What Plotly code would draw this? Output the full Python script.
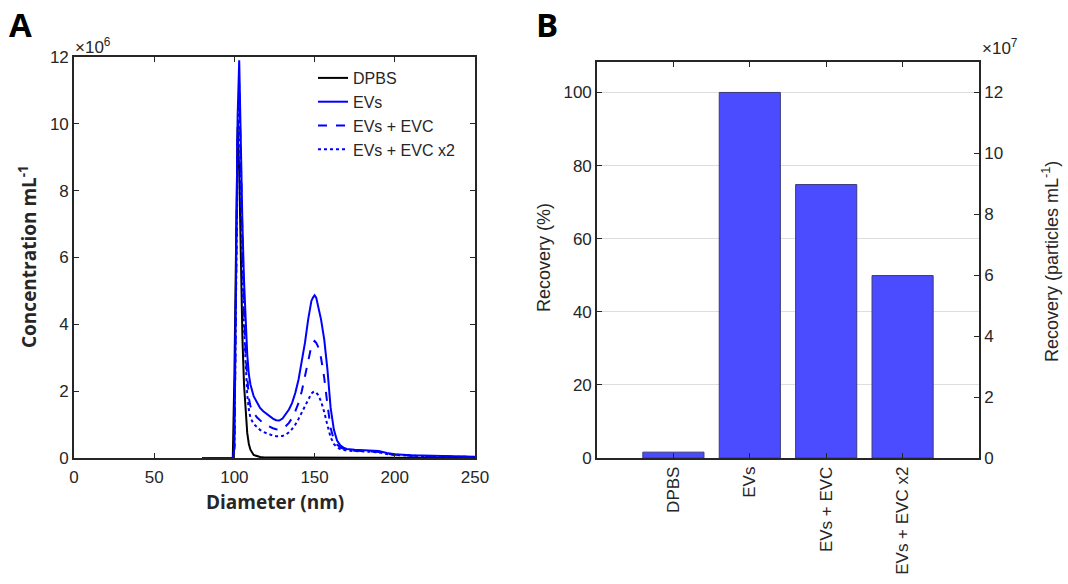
import plotly.graph_objects as go

# ---------------- Panel A data (concentration in units of 1e6 per mL) ----------------
diameter_nm = [80, 99, 100, 101, 102, 103, 104, 105, 106, 107, 108, 109, 110,
               112, 114, 116, 118, 120, 122, 124, 126, 128, 130,
               132, 134, 136, 138, 140, 142, 144, 146, 148,
               149, 150, 151, 152,
               154, 156, 158, 160, 162, 164, 166, 168, 170,
               175, 180, 185, 190, 195, 200,
               210, 220, 230, 240, 250]

conc_dpbs = [0, 0, 2.5, 7.0, 9.9, 8.6, 5.8, 3.6, 2.2, 1.3, 0.75, 0.42, 0.25,
             0.09, 0.05, 0.03, 0.025, 0.02, 0.02, 0.018, 0.016, 0.015, 0.015,
             0.014, 0.013, 0.012, 0.012, 0.011, 0.011, 0.01, 0.01, 0.01,
             0.01, 0.01, 0.01, 0.01,
             0.01, 0.009, 0.009, 0.009, 0.008, 0.008, 0.008, 0.008, 0.007,
             0.007, 0.006, 0.006, 0.005, 0.005, 0.005,
             0.004, 0.004, 0.003, 0.003, 0.003]

conc_evs = [0, 0, 0.3, 4.5, 10.2, 11.9, 9.2, 7.0, 5.3, 4.0, 3.1, 2.5, 2.2,
            1.85, 1.65, 1.5, 1.4, 1.32, 1.25, 1.18, 1.13, 1.12, 1.18,
            1.3, 1.45, 1.65, 1.95, 2.35, 2.85, 3.45, 4.15, 4.7,
            4.8, 4.87, 4.8, 4.6,
            4.15, 3.55, 2.65, 1.5, 0.85, 0.52, 0.38, 0.31, 0.27,
            0.25, 0.24, 0.23, 0.21, 0.15, 0.11,
            0.08, 0.07, 0.06, 0.05, 0.04]

conc_evs_evc = [0, 0, 0.3, 4.2, 9.6, 11.2, 8.6, 6.2, 4.4, 3.1, 2.3, 1.8, 1.55,
                1.35, 1.22, 1.12, 1.04, 0.98, 0.93, 0.89, 0.86, 0.85, 0.88,
                0.95, 1.05, 1.2, 1.4, 1.65, 2.0, 2.45, 2.95, 3.35,
                3.45, 3.5, 3.45, 3.35,
                3.0, 2.4, 1.6, 0.9, 0.55, 0.4, 0.32, 0.27, 0.24,
                0.22, 0.21, 0.2, 0.18, 0.13, 0.1,
                0.07, 0.06, 0.05, 0.04, 0.03]

conc_evs_evc_x2 = [0, 0, 0.3, 4.0, 9.2, 10.7, 8.0, 5.6, 3.9, 2.7, 1.9, 1.45, 1.2,
                   1.02, 0.92, 0.84, 0.78, 0.74, 0.7, 0.67, 0.65, 0.65, 0.66,
                   0.7, 0.77, 0.87, 1.0, 1.17, 1.37, 1.58, 1.78, 1.93,
                   1.97, 1.99, 1.96, 1.9,
                   1.7, 1.38, 0.98, 0.62, 0.42, 0.32, 0.27, 0.24, 0.22,
                   0.21, 0.2, 0.19, 0.17, 0.12, 0.09,
                   0.07, 0.05, 0.04, 0.04, 0.03]

x_ticks_a = [0, 50, 100, 150, 200, 250]
y_ticks_a = [0, 2, 4, 6, 8, 10, 12]

# ---------------- Panel B data ----------------
categories = ["DPBS", "EVs", "EVs + EVC", "EVs + EVC x2"]
category_pos = [1, 2, 3, 4]
recovery_pct = [1.6, 100.0, 74.8, 49.9]
recovery_particles_e7 = [0.19, 12.0, 8.97, 5.99]
y_ticks_b_left = [0, 20, 40, 60, 80, 100]
y_ticks_b_right = [0, 2, 4, 6, 8, 10, 12]

# ---------------- Figure ----------------
W, H = 1068, 584
AX = "#262626"
SANS = "Liberation Sans, Arial, sans-serif"
BOLD = "Open Sans, Liberation Sans, sans-serif"
TICKFONT = dict(family=SANS, size=17, color=AX)

fig = go.Figure()

line_specs = [
    ("DPBS", conc_dpbs, "black", "solid"),
    ("EVs", conc_evs, "#0000ff", "solid"),
    ("EVs + EVC", conc_evs_evc, "#0000ff", "dash"),
    ("EVs + EVC x2", conc_evs_evc_x2, "#0000ff", "dot"),
]
for name, ys, col, dash in line_specs:
    fig.add_trace(go.Scatter(x=diameter_nm, y=ys, mode="lines", name=name,
                             line=dict(color=col, width=2, dash=dash),
                             xaxis="x", yaxis="y"))

fig.add_trace(go.Bar(x=category_pos, y=recovery_pct, width=0.8,
                     marker=dict(color="#4b4bff", line=dict(color="#3a3a78", width=1)),
                     showlegend=False, xaxis="x2", yaxis="y2"))
fig.add_trace(go.Scatter(x=category_pos, y=recovery_particles_e7, mode="markers",
                         marker=dict(opacity=0), showlegend=False, hoverinfo="skip",
                         xaxis="x2", yaxis="y3"))


def px_x(p):
    return p / W


def px_y(p):
    return 1 - p / H


common = dict(showline=True, linecolor=AX, linewidth=1.6, ticks="inside", ticklen=5,
              tickcolor=AX, tickwidth=1.3, zeroline=False, tickfont=TICKFONT,
              automargin=False)

fig.update_layout(
    width=W, height=H,
    margin=dict(l=0, r=0, t=0, b=0, pad=0, autoexpand=False),
    paper_bgcolor="white", plot_bgcolor="white",
    xaxis=dict(domain=[px_x(74), px_x(475)], anchor="y", range=[0, 250],
               tickvals=x_ticks_a, mirror="ticks", showgrid=False,
               ticklabelstandoff=3, **common),
    yaxis=dict(domain=[px_y(458), px_y(57)], anchor="x", range=[0, 12],
               tickvals=y_ticks_a, mirror="ticks", showgrid=False, **common),
    xaxis2=dict(domain=[px_x(597), px_x(979)], anchor="y2", range=[0, 5],
                tickvals=category_pos, ticktext=categories, tickangle=-90,
                mirror="ticks", showgrid=False, **common),
    yaxis2=dict(domain=[px_y(458), px_y(62)], anchor="x2", range=[0, 108.33],
                tickvals=y_ticks_b_left, showgrid=True, gridcolor="#dedede",
                gridwidth=1, mirror=False, **common),
    yaxis3=dict(overlaying="y2", side="right", anchor="x2", range=[0, 13],
                tickvals=y_ticks_b_right, showgrid=False, **common),
    legend=dict(x=px_x(313), y=px_y(61), xanchor="left", yanchor="top",
                bgcolor="rgba(0,0,0,0)",
                font=dict(family=SANS, size=16, color=AX),
                tracegroupgap=0),
    showlegend=True,
)

ann = [
    dict(text="<b>A</b>", x=px_x(7), y=px_y(0), xanchor="left", yanchor="top",
         font=dict(family=BOLD, size=33, color="black")),
    dict(text="<b>B</b>", x=px_x(534), y=px_y(0), xanchor="left", yanchor="top",
         font=dict(family=BOLD, size=33, color="black")),
    dict(text="×10<sup>6</sup>", x=px_x(73), y=px_y(59), xanchor="left", yanchor="bottom",
         font=dict(family=SANS, size=17, color=AX)),
    dict(text="×10<sup>7</sup>", x=px_x(980), y=px_y(60), xanchor="left", yanchor="bottom",
         font=dict(family=SANS, size=17, color=AX)),
    dict(text="<b>Concentration mL<sup>-1</sup></b>", x=px_x(28), y=px_y(257),
         textangle=-90, xanchor="center", yanchor="middle",
         font=dict(family=BOLD, size=19, color=AX)),
    dict(text="<b>Diameter (nm)</b>", x=px_x(275), y=px_y(502),
         xanchor="center", yanchor="middle",
         font=dict(family=BOLD, size=19, color=AX)),
    dict(text="Recovery (%)", x=px_x(544), y=px_y(258), textangle=-90,
         xanchor="center", yanchor="middle",
         font=dict(family=SANS, size=18, color=AX)),
    dict(text="Recovery (particles mL<sup>-1</sup>)", x=px_x(1050), y=px_y(262), textangle=-90,
         xanchor="center", yanchor="middle",
         font=dict(family=SANS, size=18, color=AX)),
]
for a in ann:
    a.update(xref="paper", yref="paper", showarrow=False)
fig.update_layout(annotations=ann)

# remove the browser's default page margin so the figure fills the window exactly
fig.write_html("out.html", config={"displayModeBar": False},
               post_script="document.body.style.margin='0';")
